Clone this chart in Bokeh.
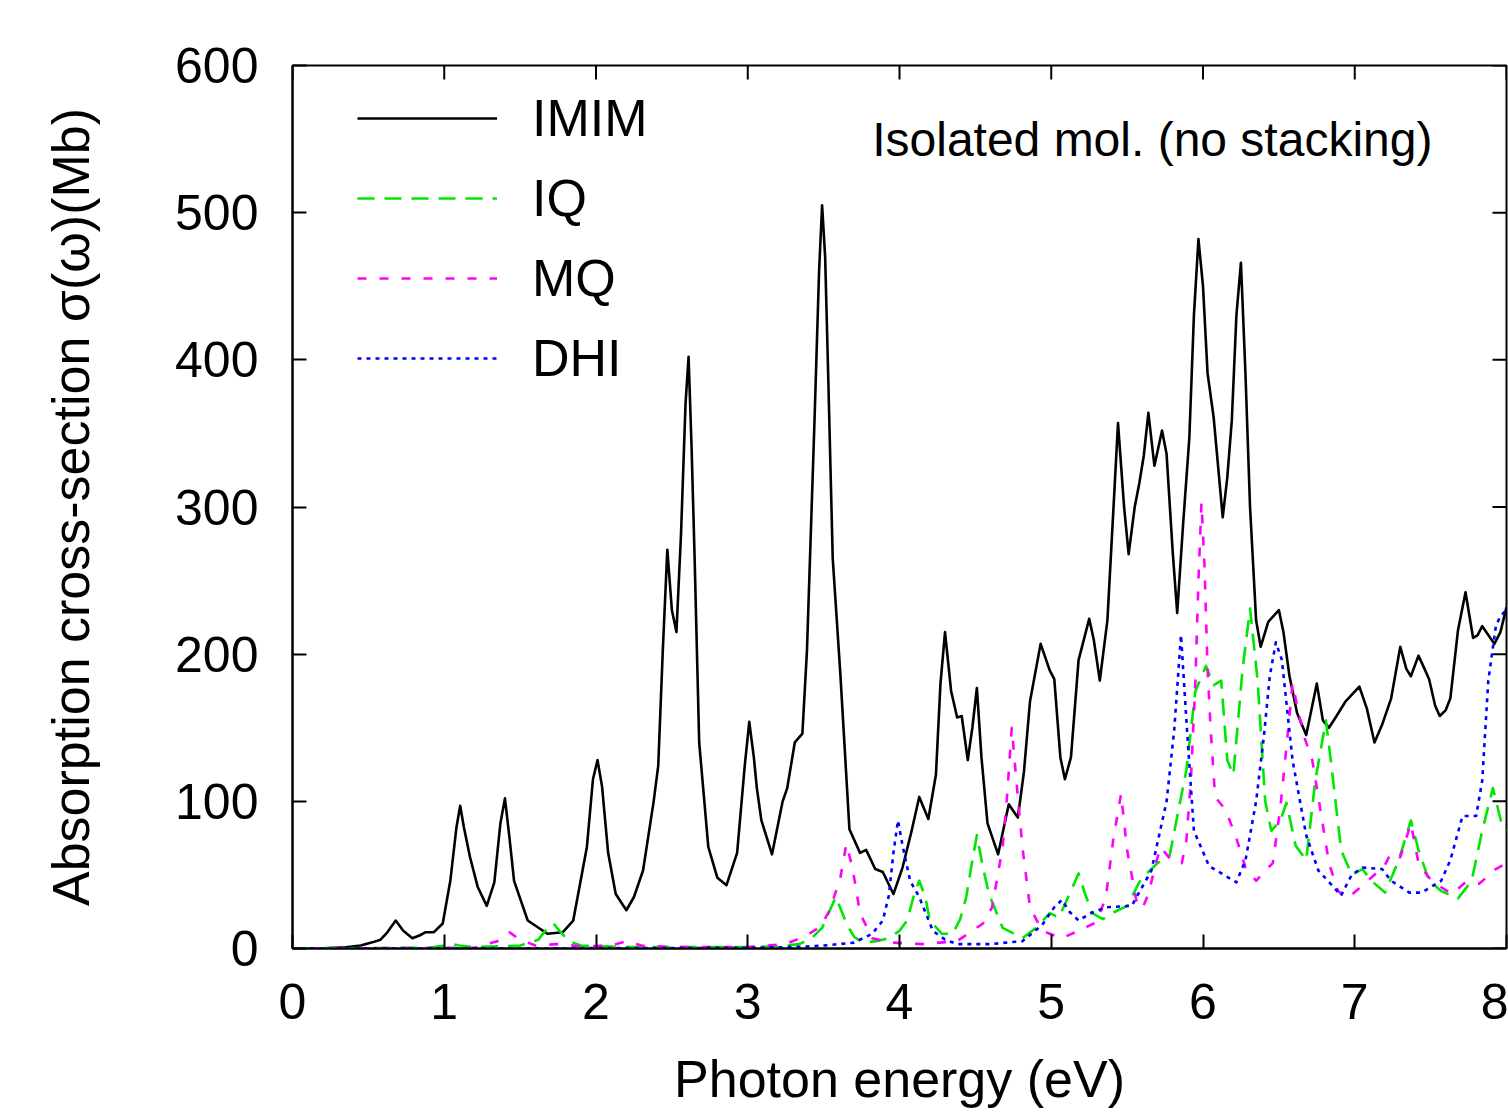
from bokeh.plotting import figure
from bokeh.models import Range1d, Legend, LegendItem, Label, FixedTicker
from bokeh.embed import file_html
from bokeh.resources import INLINE

# ---------------- data ----------------
x_ticks = [0, 1, 2, 3, 4, 5, 6, 7, 8]
y_ticks = [0, 100, 200, 300, 400, 500, 600]

imim = [(0, 0), (0.2, 0.2), (0.35, 0.8), (0.45, 2), (0.52, 4), (0.58, 6), (0.625, 11), (0.68, 19),
        (0.73, 12), (0.79, 7), (0.84, 9), (0.875, 11), (0.93, 11), (0.99, 17), (1.04, 46), (1.08, 82),
        (1.105, 97), (1.13, 82), (1.17, 62), (1.22, 42), (1.28, 29), (1.33, 45), (1.37, 85), (1.40, 102),
        (1.43, 75), (1.46, 46), (1.55, 19), (1.68, 10), (1.78, 11), (1.85, 19), (1.94, 69), (1.98, 115),
        (2.01, 128), (2.04, 110), (2.08, 65), (2.13, 37), (2.20, 26), (2.25, 35), (2.31, 53), (2.38, 100),
        (2.41, 124), (2.44, 202), (2.47, 271), (2.50, 230), (2.53, 215), (2.56, 281), (2.59, 370),
        (2.61, 402), (2.63, 340), (2.65, 265), (2.68, 140), (2.74, 69), (2.80, 48), (2.86, 43), (2.93, 65),
        (2.98, 124), (3.01, 154), (3.04, 130), (3.06, 109), (3.09, 87), (3.16, 64), (3.23, 100),
        (3.26, 109), (3.31, 140), (3.36, 146), (3.39, 202), (3.44, 359), (3.47, 460), (3.49, 505),
        (3.51, 470), (3.53, 390), (3.56, 265), (3.61, 187), (3.67, 81), (3.74, 65), (3.78, 67),
        (3.84, 54), (3.89, 52), (3.96, 37), (4.02, 55), (4.08, 80), (4.13, 103), (4.19, 88), (4.24, 118),
        (4.27, 180), (4.30, 215), (4.34, 175), (4.38, 157), (4.41, 158), (4.45, 128), (4.48, 150),
        (4.51, 177), (4.54, 130), (4.58, 85), (4.65, 64), (4.72, 98), (4.78, 89), (4.82, 120), (4.86, 168),
        (4.93, 207), (4.99, 189), (5.02, 183), (5.06, 130), (5.09, 115), (5.13, 130), (5.18, 196),
        (5.25, 224), (5.28, 210), (5.32, 182), (5.37, 223), (5.40, 280), (5.44, 357), (5.48, 300),
        (5.51, 268), (5.55, 300), (5.58, 316), (5.61, 335), (5.64, 364), (5.68, 328), (5.73, 352),
        (5.76, 336), (5.80, 270), (5.83, 228), (5.87, 290), (5.91, 347), (5.94, 430), (5.97, 482),
        (6.00, 450), (6.03, 391), (6.07, 361), (6.13, 293), (6.16, 320), (6.19, 359), (6.22, 430),
        (6.25, 466), (6.28, 390), (6.31, 300), (6.35, 223), (6.38, 205), (6.43, 222), (6.50, 230),
        (6.53, 215), (6.57, 185), (6.62, 160), (6.68, 145), (6.72, 165), (6.75, 180), (6.79, 155),
        (6.83, 150), (6.88, 158), (6.94, 168), (7.03, 178), (7.08, 163), (7.13, 140), (7.18, 152),
        (7.24, 170), (7.30, 205), (7.34, 190), (7.37, 185), (7.42, 199), (7.46, 190), (7.49, 183),
        (7.53, 165), (7.56, 158), (7.60, 162), (7.63, 170), (7.68, 216), (7.73, 242), (7.78, 211),
        (7.81, 213), (7.84, 219), (7.88, 213), (7.92, 207), (7.96, 215), (8.0, 232)]

iq = [(0, 0), (0.9, 0.5), (1.0, 2), (1.05, 3), (1.1, 2), (1.2, 1), (1.5, 2), (1.62, 6), (1.68, 14),
      (1.72, 17), (1.76, 12), (1.82, 5), (1.9, 2), (2.2, 1), (3.0, 1), (3.2, 1.5), (3.34, 3), (3.42, 7),
      (3.49, 14), (3.55, 28), (3.58, 35), (3.62, 25), (3.65, 17), (3.70, 8), (3.76, 4), (3.85, 5),
      (3.93, 7), (4.00, 12), (4.05, 19), (4.10, 38), (4.13, 46), (4.17, 35), (4.20, 19), (4.28, 10),
      (4.35, 10), (4.40, 20), (4.44, 35), (4.48, 60), (4.51, 77), (4.55, 55), (4.59, 37), (4.68, 14),
      (4.81, 7), (4.90, 14), (4.99, 24), (5.05, 21), (5.12, 37), (5.18, 51), (5.22, 38), (5.27, 24),
      (5.34, 20), (5.42, 25), (5.50, 29), (5.58, 45), (5.62, 50), (5.70, 58), (5.78, 63), (5.84, 95),
      (5.89, 121), (5.95, 175), (6.02, 192), (6.07, 179), (6.12, 182), (6.16, 128), (6.20, 118),
      (6.26, 189), (6.31, 231), (6.36, 182), (6.41, 100), (6.45, 80), (6.51, 87), (6.55, 99), (6.61, 70),
      (6.68, 60), (6.74, 114), (6.81, 155), (6.85, 121), (6.91, 67), (6.98, 50), (7.05, 54), (7.11, 46),
      (7.20, 38), (7.29, 60), (7.37, 87), (7.42, 67), (7.49, 46), (7.57, 39), (7.68, 34), (7.77, 46),
      (7.84, 80), (7.91, 109), (7.97, 84), (8.0, 80)]

mq = [(0, 0), (1.2, 0.5), (1.35, 5), (1.43, 11), (1.50, 6), (1.60, 2), (1.75, 3), (1.90, 1.5),
      (2.10, 2), (2.20, 5), (2.30, 2), (2.5, 1), (3.0, 1), (3.25, 3), (3.39, 9), (3.48, 15), (3.54, 26),
      (3.61, 48), (3.65, 71), (3.69, 55), (3.74, 24), (3.82, 7), (3.95, 4), (4.15, 3), (4.38, 5),
      (4.55, 17), (4.61, 28), (4.68, 69), (4.71, 105), (4.74, 150), (4.77, 114), (4.81, 69), (4.86, 28),
      (4.94, 12), (5.07, 7), (5.18, 12), (5.30, 18), (5.36, 35), (5.41, 75), (5.46, 105), (5.50, 67),
      (5.56, 33), (5.60, 27), (5.64, 37), (5.69, 58), (5.72, 69), (5.79, 60), (5.86, 58), (5.89, 73),
      (5.92, 114), (5.95, 182), (5.97, 250), (5.99, 303), (6.01, 260), (6.03, 190), (6.05, 150),
      (6.08, 103), (6.15, 94), (6.22, 75), (6.28, 55), (6.35, 46), (6.43, 55), (6.46, 58), (6.51, 96),
      (6.55, 137), (6.59, 180), (6.63, 160), (6.67, 143), (6.72, 128), (6.76, 103), (6.83, 58),
      (6.89, 39), (6.95, 34), (7.03, 41), (7.14, 51), (7.19, 55), (7.24, 65), (7.30, 62), (7.37, 85),
      (7.42, 58), (7.49, 48), (7.55, 43), (7.64, 37), (7.73, 45), (7.82, 44), (7.93, 54), (8.0, 58)]

dhi = [(0, 0), (2.5, 0.3), (3.0, 0.5), (3.3, 1), (3.5, 2), (3.70, 4), (3.82, 10), (3.89, 19),
       (3.93, 36), (3.96, 65), (3.99, 87), (4.02, 70), (4.07, 46), (4.13, 35), (4.22, 12), (4.30, 6),
       (4.38, 3), (4.60, 3), (4.81, 5), (4.94, 16), (5.02, 28), (5.07, 33), (5.12, 25), (5.18, 19),
       (5.26, 24), (5.36, 28), (5.53, 29), (5.66, 53), (5.76, 100), (5.81, 148), (5.855, 213),
       (5.895, 148), (5.94, 80), (6.04, 56), (6.22, 45), (6.28, 60), (6.35, 100), (6.40, 143),
       (6.44, 185), (6.48, 208), (6.52, 196), (6.59, 128), (6.68, 77), (6.76, 53), (6.85, 43),
       (6.91, 36), (6.98, 50), (7.05, 55), (7.18, 54), (7.24, 46), (7.36, 38), (7.44, 38), (7.57, 46),
       (7.63, 60), (7.71, 90), (7.80, 90), (7.84, 114), (7.88, 182), (7.93, 219), (7.96, 226), (8.0, 230)]

series_names = ["IMIM", "IQ", "MQ", "DHI"]
series_colors = ["#000000", "#00e600", "#ff00ff", "#0000ff"]
series_dashes = ["solid", "17 10", "9 13", "4 5"]

# ---------------- figure ----------------
FONT = "Liberation Sans"
W, H = 1508, 1116
BL, BR, BT, BB = 292, 2, 65, 168
FRAME_W, FRAME_H = W - BL - BR, H - BT - BB
TICK = 14

X0, X1, Y0, Y1 = 0, 8, 0, 600
p = figure(width=W, height=H, x_range=Range1d(X0, X1), y_range=Range1d(Y0, Y1),
           output_backend="svg", toolbar_location=None,
           min_border_left=BL, min_border_right=BR, min_border_top=BT, min_border_bottom=BB,
           x_axis_label="Photon energy (eV)",
           y_axis_label="Absorption cross-section \u03c3(\u03c9)(Mb)")
p.grid.visible = False
p.background_fill_color = "white"
p.border_fill_color = "white"
p.outline_line_color = "black"
p.outline_line_width = 2
p.outline_line_alpha = 1.0

p.xaxis.ticker = FixedTicker(ticks=x_ticks, minor_ticks=[])
p.yaxis.ticker = FixedTicker(ticks=y_ticks, minor_ticks=[])
for ax in (p.xaxis[0], p.yaxis[0]):
    ax.axis_line_width = 2
    ax.major_tick_in = TICK
    ax.major_tick_out = 0
    ax.major_tick_line_width = 2
    ax.minor_tick_in = 0
    ax.minor_tick_out = 0
    ax.major_label_text_font = FONT
    ax.major_label_text_font_size = "50px"
    ax.major_label_text_color = "black"
    ax.axis_label_text_font = FONT
    ax.axis_label_text_font_style = "normal"
    ax.axis_label_text_color = "black"
p.xaxis.major_label_standoff = 35
p.yaxis.major_label_standoff = 34
p.xaxis.axis_label_text_font_size = "52px"
p.yaxis.axis_label_text_font_size = "52px"
p.xaxis.axis_label_standoff = 28
p.yaxis.axis_label_standoff = 72

# mirror ticks (top and right), from the tick lists
dy = TICK * (Y1 - Y0) / FRAME_H
dx = TICK * (X1 - X0) / FRAME_W
p.segment(x0=x_ticks, y0=[Y1] * len(x_ticks), x1=x_ticks, y1=[Y1 - dy] * len(x_ticks),
          line_color="black", line_width=2)
p.segment(x0=[X1] * len(y_ticks), y0=y_ticks, x1=[X1 - dx] * len(y_ticks), y1=y_ticks,
          line_color="black", line_width=2)

renderers = []
for name, data, col, dash in zip(series_names, [imim, iq, mq, dhi], series_colors, series_dashes):
    xs = [pt[0] for pt in data]
    ys = [pt[1] for pt in data]
    r = p.line(xs, ys, line_color=col, line_width=2.6, line_dash=dash, line_join="round")
    renderers.append(r)

legend = Legend(items=[LegendItem(label=n, renderers=[r]) for n, r in zip(series_names, renderers)],
                location=(65, 560), orientation="vertical",
                glyph_width=140, glyph_height=60, label_height=60, label_standoff=35, spacing=20,
                padding=0, margin=0, border_line_color=None, background_fill_alpha=0,
                label_text_font=FONT, label_text_font_size="52px", label_text_color="black")
p.add_layout(legend)

p.add_layout(Label(x=3.82, y=550, text="Isolated mol. (no stacking)", text_font=FONT,
                   text_font_size="48px", text_color="black", text_baseline="alphabetic"))

open("out.html", "w").write(file_html(p, INLINE))
